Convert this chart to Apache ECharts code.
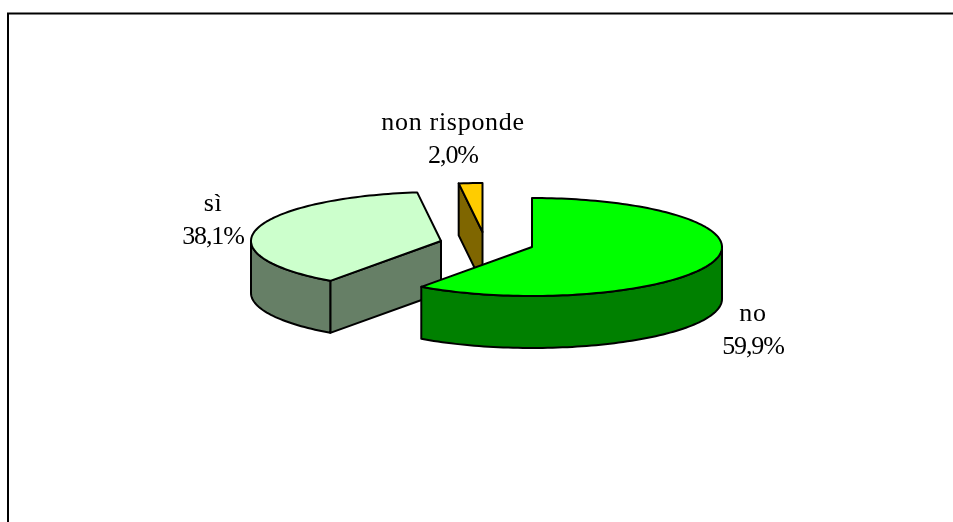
<!DOCTYPE html>
<html><head><meta charset="utf-8">
<style>html,body{margin:0;padding:0;background:#fff}#c{width:953px;height:522px}</style>
<script src="https://cdn.jsdelivr.net/npm/echarts@6/dist/echarts.min.js"></script>
</head><body><div id="c"></div>
<script>
const categories = ['no', 'sì', 'non risponde'];
const values = [59.9, 38.1, 2.0];

// Layout and style of the pseudo-3D pie (not data)
const apexes = [[532, 247], [441, 241], [482.5, 232]];
const labelAnchors = [[753, 331], [213, 221], [453, 140]];
const drawRank = [3, 2, 1];
const topColors = ['#00FF00', '#CCFFCC', '#FFCC00'];
const sideColors = ['#008000', '#667F66', '#7F6600'];
const RX = 190, RY = 49, DEPTH = 52;

// The reference sets words slightly wide and percentages slightly tight.
const nativeFillText = CanvasRenderingContext2D.prototype.fillText;
CanvasRenderingContext2D.prototype.fillText = function (text, x, y, w) {
  this.letterSpacing = /\d/.test(text) ? '-1.1px' : '0.7px';
  return w === undefined ? nativeFillText.call(this, text, x, y) : nativeFillText.call(this, text, x, y, w);
};

const total = values.reduce((a, b) => a + b, 0);
const rad = d => d * Math.PI / 180;
const rim = (c, t, dy) => [c[0] + RX * Math.sin(rad(t)), c[1] - RY * Math.cos(rad(t)) + (dy || 0)];
function arc(c, a, b, dy) {
  const n = Math.max(2, Math.ceil(Math.abs(b - a) / 1.5));
  const pts = [];
  for (let i = 0; i <= n; i++) pts.push(rim(c, a + (b - a) * i / n, dy));
  return pts;
}
const fmt = v => v.toFixed(1).replace('.', ',') + '%';

function renderItem(params, api) {
  const i = params.dataIndex, v = api.value(0);
  let before = 0;
  for (let k = 0; k < i; k++) before += values[k];
  const a = before / total * 360, b = (before + v) / total * 360;
  const c = apexes[i], z = drawRank[i] * 10;
  const style = f => ({ fill: f, stroke: '#000', lineWidth: 2, lineJoin: 'round' });
  const poly = (points, fill, dz) => ({ type: 'polygon', shape: { points }, style: style(fill), z2: z + dz });
  const children = [];
  const face = t => {
    const p = rim(c, t);
    children.push(poly([c, p, [p[0], p[1] + DEPTH], [c[0], c[1] + DEPTH]], sideColors[i], 1));
  };
  if (Math.sin(rad(a)) < -1e-6) face(a);
  if (Math.sin(rad(b)) > 1e-6) face(b);
  const wa = Math.max(a, 90), wb = Math.min(b, 270);
  if (wb > wa) {
    children.push(poly(arc(c, wa, wb).concat(arc(c, wb, wa, DEPTH)), sideColors[i], 2));
  }
  children.push(poly([c].concat(arc(c, a, b)), topColors[i], 3));
  const label = (text, dy) => ({
    type: 'text', z2: 100,
    x: labelAnchors[i][0], y: labelAnchors[i][1] + dy,
    style: {
      text, fill: '#000', font: '26px "Liberation Serif"',
      align: 'center', verticalAlign: 'middle'
    }
  });
  children.push(label(categories[i], -17), label(fmt(v), 16));
  return { type: 'group', children };
}

const chart = echarts.init(document.getElementById('c'), null, { renderer: 'canvas' });
chart.setOption({
  animation: false,
  backgroundColor: '#fff',
  graphic: [{
    type: 'polyline', silent: true,
    shape: { points: [[8, 522], [8, 13.5], [953, 13.5]] },
    style: { stroke: '#000', lineWidth: 2, fill: null }
  }],
  series: [{
    type: 'custom', coordinateSystem: 'none', silent: true,
    renderItem,
    data: values.map((v, i) => ({ name: categories[i], value: [v] }))
  }]
});
</script></body></html>
